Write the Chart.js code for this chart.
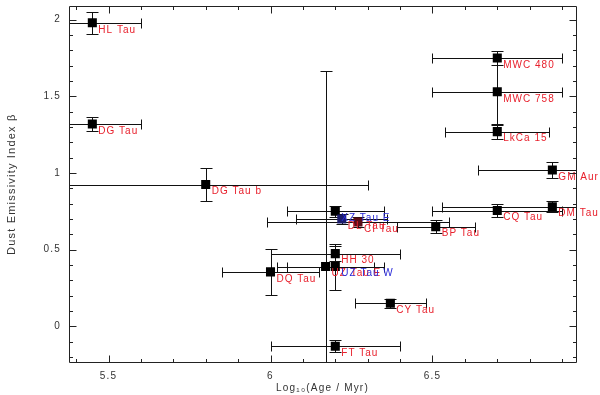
<!DOCTYPE html>
<html>
<head>
<meta charset="utf-8">
<script src="https://cdn.jsdelivr.net/npm/chart.js@4/dist/chart.umd.min.js"></script>
<style>
  html, body { margin: 0; padding: 0; background: #fff; }
  #wrap { width: 600px; height: 395px; }
</style>
</head>
<body>
<div id="wrap"><canvas id="beta-age" width="600" height="395"></canvas></div>
<script>
// sources, log age and dust emissivity index
const names = ["HL Tau", "DG Tau", "DG Tau b", "MWC 480", "MWC 758", "LkCa 15", "GM Aur", "DM Tau", "CQ Tau", "BP Tau",
  "XZ Tau E", "DL Tau", "CI Tau", "HH 30", "UZ Tau E", "UZ Tau W", "DQ Tau", "CY Tau", "FT Tau"];
const logAge = [5.45, 5.45, 5.80, 6.70, 6.70, 6.70, 6.87, 6.87, 6.70, 6.51, 6.20, 6.22, 6.27, 6.20, 6.17, 6.20, 6.00, 6.37, 6.20];
const ageErrLo = [0.15, 0.15, 0.50, 0.20, 0.20, 0.16, 0.23, 0.34, 0.20, 0.12, 0.15, 0.14, 0.28, 0.20, 0.15, 0.15, 0.15, 0.11, 0.20];
const ageErrHi = [0.15, 0.15, 0.50, 0.20, 0.20, 0.16, 0.23, 0.34, 0.20, 0.12, 0.15, 0.14, 0.28, 0.20, 0.15, 0.15, 0.15, 0.11, 0.20];
const beta = [1.98, 1.32, 0.925, 1.75, 1.53, 1.27, 1.02, 0.78, 0.755, 0.65, 0.75, 0.70, 0.68, 0.474, 0.39, 0.39, 0.355, 0.15, -0.13];
const betaErr = [0.07, 0.046, 0.107, 0.047, 0.22, 0.05, 0.054, 0.035, 0.045, 0.042, 0.035, 0.03, 0.03, 0.05, 1.276, 0.15, 0.15, 0.03, 0.04];
const blueLabels = ["XZ Tau E", "UZ Tau W"];
const xTicks = [5.5, 6, 6.5];
const yTicks = [0, 0.5, 1, 1.5, 2];

const RED = "#e8202c";
const BLUE = "#2a2ad8";
const FAMILY = '"Liberation Sans", Arial, sans-serif';

function markerColor(name) {
  if (name === "DL Tau") return "#1c1c6c";
  if (name === "CI Tau") return "#5a0c18";
  return "#000";
}

const snap = v => Math.round(v) + 0.5;

// error bars, clipped to the plot frame
const errorBars = {
  id: "errorBars",
  beforeDatasetsDraw(chart) {
    const { ctx, chartArea: a, scales: { x, y } } = chart;
    ctx.save();
    ctx.beginPath();
    ctx.rect(a.left, a.top, a.right - a.left, a.bottom - a.top);
    ctx.clip();
    ctx.strokeStyle = "#111";
    ctx.lineWidth = 1;
    logAge.forEach((age, i) => {
      const px = snap(x.getPixelForValue(age));
      const py = snap(y.getPixelForValue(beta[i]));
      const x0 = snap(x.getPixelForValue(age - ageErrLo[i]));
      const x1 = snap(x.getPixelForValue(age + ageErrHi[i]));
      const y0 = snap(y.getPixelForValue(beta[i] - betaErr[i]));
      const y1 = snap(y.getPixelForValue(beta[i] + betaErr[i]));
      ctx.beginPath();
      ctx.moveTo(x0, py); ctx.lineTo(x1, py);
      ctx.moveTo(x0, py - 5); ctx.lineTo(x0, py + 5);
      ctx.moveTo(x1, py - 5); ctx.lineTo(x1, py + 5);
      ctx.moveTo(px, y0); ctx.lineTo(px, y1);
      ctx.moveTo(px - 6, y0); ctx.lineTo(px + 6, y0);
      ctx.moveTo(px - 6, y1); ctx.lineTo(px + 6, y1);
      ctx.stroke();
    });
    ctx.restore();
  }
};

// source names next to the markers
const sourceLabels = {
  id: "sourceLabels",
  afterDatasetsDraw(chart) {
    const { ctx, scales: { x, y } } = chart;
    ctx.save();
    ctx.font = "10px " + FAMILY;
    ctx.letterSpacing = "1px";
    ctx.textAlign = "left";
    ctx.textBaseline = "middle";
    names.forEach((name, i) => {
      ctx.fillStyle = blueLabels.includes(name) ? BLUE : RED;
      ctx.fillText(name, x.getPixelForValue(logAge[i]) + 6, y.getPixelForValue(beta[i]) + 7);
    });
    ctx.restore();
  }
};

// box with inward ticks on all four sides
const frame = {
  id: "frame",
  afterDraw(chart) {
    const { ctx, chartArea: a, scales: { x, y } } = chart;
    const L = snap(a.left), R = snap(a.right), T = snap(a.top), B = snap(a.bottom);
    ctx.save();
    ctx.strokeStyle = "#222";
    ctx.lineWidth = 1;
    ctx.beginPath();
    ctx.rect(L, T, R - L, B - T);
    for (let k = Math.ceil(x.min * 10); k <= Math.floor(x.max * 10); k++) {
      const px = snap(x.getPixelForValue(k / 10));
      const len = k % 5 === 0 ? 7 : 3.5;
      ctx.moveTo(px, B); ctx.lineTo(px, B - len);
      ctx.moveTo(px, T); ctx.lineTo(px, T + len);
    }
    for (let k = Math.ceil(y.min * 10); k <= Math.floor(y.max * 10); k++) {
      const py = snap(y.getPixelForValue(k / 10));
      const len = k % 5 === 0 ? 7 : 3.5;
      ctx.moveTo(L, py); ctx.lineTo(L + len, py);
      ctx.moveTo(R, py); ctx.lineTo(R - len, py);
    }
    ctx.stroke();
    ctx.restore();
  }
};

const spacing = {
  id: "spacing",
  beforeDraw(chart) { chart.ctx.letterSpacing = "1.2px"; }
};

const ctx = document.getElementById("beta-age").getContext("2d");
new Chart(ctx, {
  type: "scatter",
  data: {
    datasets: [{
      data: logAge.map((age, i) => ({ x: age, y: beta[i] })),
      pointStyle: "rect",
      pointRadius: 6.4,
      pointHoverRadius: 6.4,
      backgroundColor: names.map(markerColor),
      borderWidth: 0
    }]
  },
  options: {
    responsive: false,
    animation: false,
    devicePixelRatio: 1,
    layout: { padding: { top: 3, right: 24, left: 0, bottom: 0 } },
    plugins: { legend: { display: false }, tooltip: { enabled: false } },
    scales: {
      x: {
        type: "linear",
        min: 5.378,
        max: 6.943,
        grid: { display: false, drawTicks: false },
        border: { display: false },
        afterFit: s => { s.height = 33; s.paddingLeft = 0; s.paddingRight = 0; },
        afterBuildTicks: s => { s.ticks = xTicks.map(v => ({ value: v })); },
        ticks: {
          padding: 8,
          color: "#333",
          font: { family: FAMILY, size: 10 },
          callback: v => String(v)
        },
        title: {
          display: true,
          text: "Log\u2081\u2080(Age / Myr)",
          color: "#333",
          font: { family: FAMILY, size: 10 },
          padding: { top: 0, bottom: 1 }
        }
      },
      y: {
        type: "linear",
        min: -0.233,
        max: 2.087,
        grid: { display: false, drawTicks: false },
        border: { display: false },
        afterFit: s => { s.width = 69; s.paddingTop = 0; s.paddingBottom = 0; },
        afterBuildTicks: s => { s.ticks = yTicks.map(v => ({ value: v })); },
        ticks: {
          padding: 8,
          color: "#333",
          font: { family: FAMILY, size: 10 },
          callback: v => String(v)
        },
        title: {
          display: true,
          text: "Dust Emissivity Index \u03b2",
          color: "#333",
          font: { family: FAMILY, size: 11 },
          padding: { top: 5, bottom: 0 }
        }
      }
    }
  },
  plugins: [spacing, errorBars, sourceLabels, frame]
});
</script>
</body>
</html>
